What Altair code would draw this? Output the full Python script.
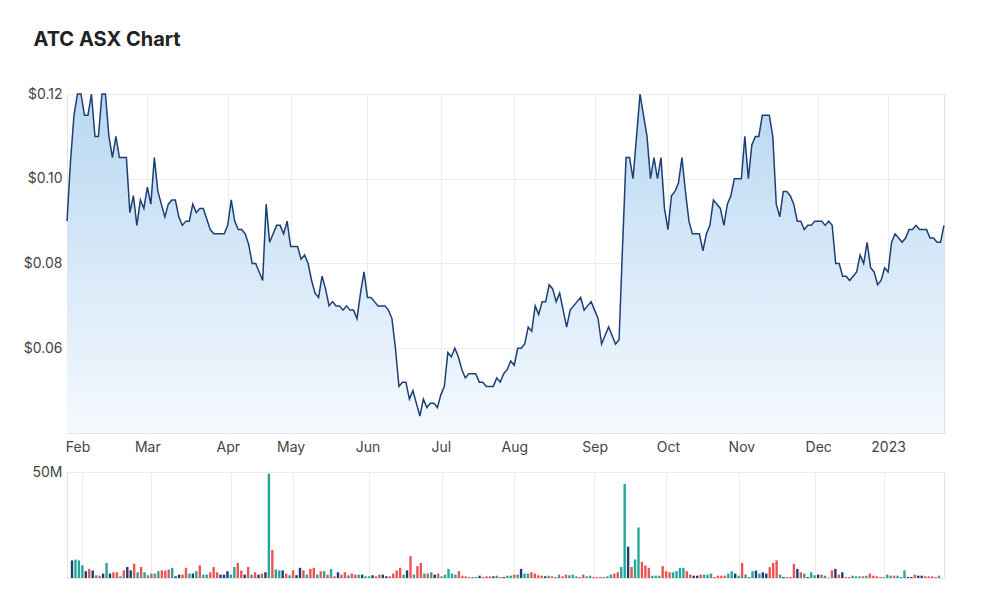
import altair as alt
import pandas as pd

# ---------------- data ----------------
holidays = ["2022-04-15", "2022-04-18", "2022-04-25", "2022-06-13",
            "2022-09-22", "2022-12-26", "2022-12-27", "2023-01-02"]

price = [
    0.090, 0.104, 0.115, 0.120, 0.120, 0.115, 0.115, 0.120, 0.110, 0.110,
    0.120, 0.120, 0.110, 0.105, 0.110, 0.105, 0.105, 0.105, 0.092, 0.096,
    0.089, 0.095, 0.093, 0.098, 0.094, 0.105, 0.097, 0.094, 0.091, 0.094,
    0.095, 0.095, 0.091, 0.089, 0.090, 0.090, 0.094, 0.092, 0.093, 0.093,
    0.0905, 0.088, 0.087, 0.087, 0.087, 0.087, 0.089, 0.095, 0.090, 0.088,
    0.088, 0.087, 0.0845, 0.080, 0.080, 0.078, 0.076, 0.094, 0.085, 0.087,
    0.089, 0.089, 0.087, 0.090, 0.084, 0.084, 0.084, 0.081, 0.082, 0.080,
    0.076, 0.073, 0.072, 0.077, 0.074, 0.070, 0.071, 0.070, 0.070, 0.069,
    0.070, 0.069, 0.069, 0.067, 0.073, 0.078, 0.072, 0.072, 0.071, 0.070,
    0.070, 0.070, 0.069, 0.067, 0.060, 0.051, 0.052, 0.052, 0.048, 0.050,
    0.047, 0.044, 0.048, 0.046, 0.047, 0.047, 0.046, 0.049, 0.051, 0.059,
    0.058, 0.060, 0.058, 0.055, 0.053, 0.054, 0.054, 0.054, 0.052, 0.052,
    0.051, 0.051, 0.051, 0.053, 0.052, 0.054, 0.055, 0.057, 0.056, 0.060,
    0.060, 0.061, 0.065, 0.064, 0.070, 0.068, 0.071, 0.071, 0.075, 0.074,
    0.071, 0.073, 0.069, 0.065, 0.069, 0.070, 0.071, 0.072, 0.069, 0.070,
    0.071, 0.069, 0.067, 0.061, 0.063, 0.065, 0.063, 0.061, 0.062, 0.084,
    0.105, 0.105, 0.100, 0.110, 0.120, 0.115, 0.110, 0.100, 0.105, 0.100,
    0.105, 0.093, 0.088, 0.096, 0.097, 0.099, 0.105, 0.097, 0.090, 0.087,
    0.087, 0.087, 0.083, 0.087, 0.089, 0.095, 0.094, 0.093, 0.089, 0.094,
    0.096, 0.100, 0.100, 0.100, 0.110, 0.100, 0.108, 0.110, 0.110, 0.115,
    0.115, 0.115, 0.110, 0.094, 0.091, 0.097, 0.097, 0.096, 0.094, 0.090,
    0.090, 0.088, 0.089, 0.089, 0.090, 0.090, 0.090, 0.089, 0.090, 0.089,
    0.080, 0.080, 0.077, 0.077, 0.076, 0.077, 0.078, 0.082, 0.080, 0.085,
    0.079, 0.078, 0.075, 0.076, 0.079, 0.078, 0.085, 0.087, 0.086, 0.085,
    0.086, 0.088, 0.088, 0.089, 0.088, 0.088, 0.088, 0.086, 0.086, 0.085,
    0.085, 0.089,
]

# volume in millions of shares
volume = [
    8.3, 8.7, 8.3, 6.0, 3.2, 4.3, 3.5, 1.3, 1.1, 2.1,
    7.1, 2.1, 2.7, 2.7, 0.8, 3.6, 5.2, 3.6, 6.7, 2.7,
    5.2, 2.7, 1.3, 2.1, 2.1, 3.2, 3.6, 3.5, 4.0, 4.8,
    0.8, 1.6, 1.6, 4.8, 2.1, 2.1, 3.2, 6.0, 1.6, 1.6,
    2.7, 5.2, 2.7, 1.6, 1.6, 3.2, 1.6, 5.2, 7.1, 3.5,
    1.6, 5.2, 1.6, 2.7, 1.6, 2.1, 2.7, 49.2, 13.2, 4.0,
    3.6, 3.6, 2.1, 1.3, 3.6, 1.3, 4.8, 3.6, 1.6, 4.3,
    4.8, 1.6, 3.2, 3.2, 1.6, 4.3, 0.8, 2.7, 1.6, 2.7,
    1.3, 2.1, 1.6, 1.6, 1.6, 0.8, 0.8, 1.3, 0.8, 1.6,
    1.6, 0.8, 0.8, 2.1, 3.5, 4.8, 1.6, 3.6, 10.3, 1.6,
    5.6, 7.1, 2.1, 2.1, 2.7, 1.6, 2.1, 0.8, 1.6, 4.3,
    2.1, 1.6, 3.2, 1.1, 0.8, 0.5, 0.5, 0.5, 1.1, 0.5,
    0.8, 0.8, 0.8, 1.1, 0.5, 0.5, 1.1, 1.1, 1.6, 1.6,
    4.3, 2.1, 2.1, 2.7, 2.1, 1.3, 1.1, 0.8, 1.1, 0.8,
    0.5, 1.6, 0.8, 1.6, 1.3, 1.6, 0.8, 0.5, 1.6, 0.8,
    1.1, 0.5, 0.5, 0.5, 0.5, 0.8, 1.6, 2.1, 2.7, 5.2,
    44.4, 14.8, 5.2, 8.7, 23.8, 7.6, 5.9, 4.8, 1.1, 1.1,
    1.1, 5.6, 3.2, 2.7, 2.7, 3.2, 4.8, 4.8, 3.2, 1.6,
    1.1, 1.1, 1.6, 1.6, 1.6, 2.1, 0.5, 1.1, 1.1, 1.1,
    2.1, 3.2, 2.1, 1.1, 7.1, 1.6, 0.5, 3.2, 3.5, 2.1,
    2.7, 2.1, 5.1, 7.1, 8.3, 1.6, 0.5, 0.5, 0.5, 6.7,
    4.3, 2.7, 2.1, 0.5, 2.7, 1.3, 1.6, 1.6, 1.1, 0.2,
    3.6, 4.3, 1.6, 2.7, 0.5, 0.5, 1.1, 0.8, 0.8, 0.8,
    1.1, 2.1, 1.1, 0.8, 0.5, 0.5, 1.6, 1.1, 1.1, 1.1,
    0.5, 3.6, 0.5, 0.5, 1.6, 1.1, 1.1, 0.8, 0.8, 0.8,
    0.5, 1.1,
]

# bar colour class: u = up, d = down, f = flat
dir_rows = [
    "fuuufdfudf", "ufddudffdu", "dudududddu", "ffddufuduu",
    "dddfffuudd", "fdudfdfudu", "ufdudffdud", "dudududfdd",
    "uddufuufdd", "ffddddufdu", "ddudufduuu", "uudddduufd",
    "ddfudfuudu", "fuuddddfud", "dudduuuddu", "udddduuddu",
    "ufduudddu" + "u", "udddu" + "uuudd", "ffduuudddd", "uufuduuufu",
    "ffdddufddd", "fdufuufdud", "dfdfdduuud", "udddduuudu",
    "uuffdffddd", "du",
]
direction = list("".join(dir_rows))

months = ["Feb", "Mar", "Apr", "May", "Jun", "Jul", "Aug", "Sep",
          "Oct", "Nov", "Dec", "2023"]

# ---------------- build tables ----------------
days = [d for d in pd.bdate_range("2022-01-27", "2023-01-25")
        if d.strftime("%Y-%m-%d") not in holidays]
n = len(price)
df = pd.DataFrame({
    "i": list(range(n)),
    "date": [d.strftime("%Y-%m-%d") for d in days[:n]],
    "price": price,
    "volume": volume[:n],
    "dir": direction[:n],
})

month_idx = []
for k in range(1, n):
    if days[k].month != days[k - 1].month:
        month_idx.append(k)
label_expr = ""
for k, m in zip(month_idx, months):
    label_expr += f"datum.value == {k} ? '{m}' : "
label_expr += "''"

FONT = "Inter"
GRID = "#ececec"
x_scale = alt.Scale(domain=[0, n - 1], nice=False, zero=False)

x_price = alt.X(
    "i:Q", scale=x_scale,
    axis=alt.Axis(values=month_idx, labelExpr=label_expr, title=None,
                  grid=True, gridColor=GRID, ticks=False, domain=False,
                  labelPadding=7, labelFontSize=14, labelColor="#444",
                  labelFont=FONT, labelFlush=False),
)
y_price = alt.Y(
    "price:Q", scale=alt.Scale(domain=[0.04, 0.12], nice=False, zero=False),
    axis=alt.Axis(values=[0.06, 0.08, 0.10, 0.12], format="$.2f", title=None,
                  grid=True, gridColor=GRID, ticks=False, domain=False,
                  labelPadding=5, labelFontSize=14, labelColor="#444",
                  labelFont=FONT, minExtent=62, maxExtent=62),
)

area = alt.Chart(df).mark_area(
    color=alt.Gradient(
        gradient="linear",
        stops=[alt.GradientStop(color="#b9d8f2", offset=0),
               alt.GradientStop(color="#f5f9fe", offset=1)],
        x1=1, x2=1, y1=0, y2=1,
    ),
).encode(x=x_price, y=y_price, y2=alt.datum(0.04))

line = alt.Chart(df).mark_line(color="#1d3f74", strokeWidth=1.5).encode(
    x=x_price, y=y_price
)

price_chart = alt.layer(area, line).properties(width=877, height=339)

vol_chart = alt.Chart(df).mark_bar(size=2.4).encode(
    x=alt.X("i:Q", scale=x_scale,
            axis=alt.Axis(values=month_idx, labels=False, ticks=False,
                          domain=False, grid=True, gridColor=GRID,
                          title=None)),
    y=alt.Y("volume:Q", scale=alt.Scale(domain=[0, 50], nice=False),
            axis=alt.Axis(values=[50], labelExpr="datum.value + 'M'",
                          title=None, grid=True, gridColor=GRID, ticks=False,
                          domain=False, labelPadding=5, labelFontSize=14,
                          labelColor="#444", labelFont=FONT,
                          minExtent=62, maxExtent=62)),
    color=alt.Color("dir:N",
                    scale=alt.Scale(domain=["u", "d", "f"],
                                    range=["#26a69a", "#ef5350", "#1d3f74"]),
                    legend=None),
).properties(width=877, height=106)

chart = alt.vconcat(price_chart, vol_chart, spacing=9).properties(
    title=alt.TitleParams("ATC ASX Chart", anchor="start", fontSize=20,
                          font=FONT, fontWeight="bold", color="#222",
                          dx=29, offset=37),
    padding={"left": 4, "top": 29, "right": 5, "bottom": 5},
).configure_view(stroke="#e4e4e4")

chart.save("out.html", embed_options={"renderer": "svg", "actions": False})
